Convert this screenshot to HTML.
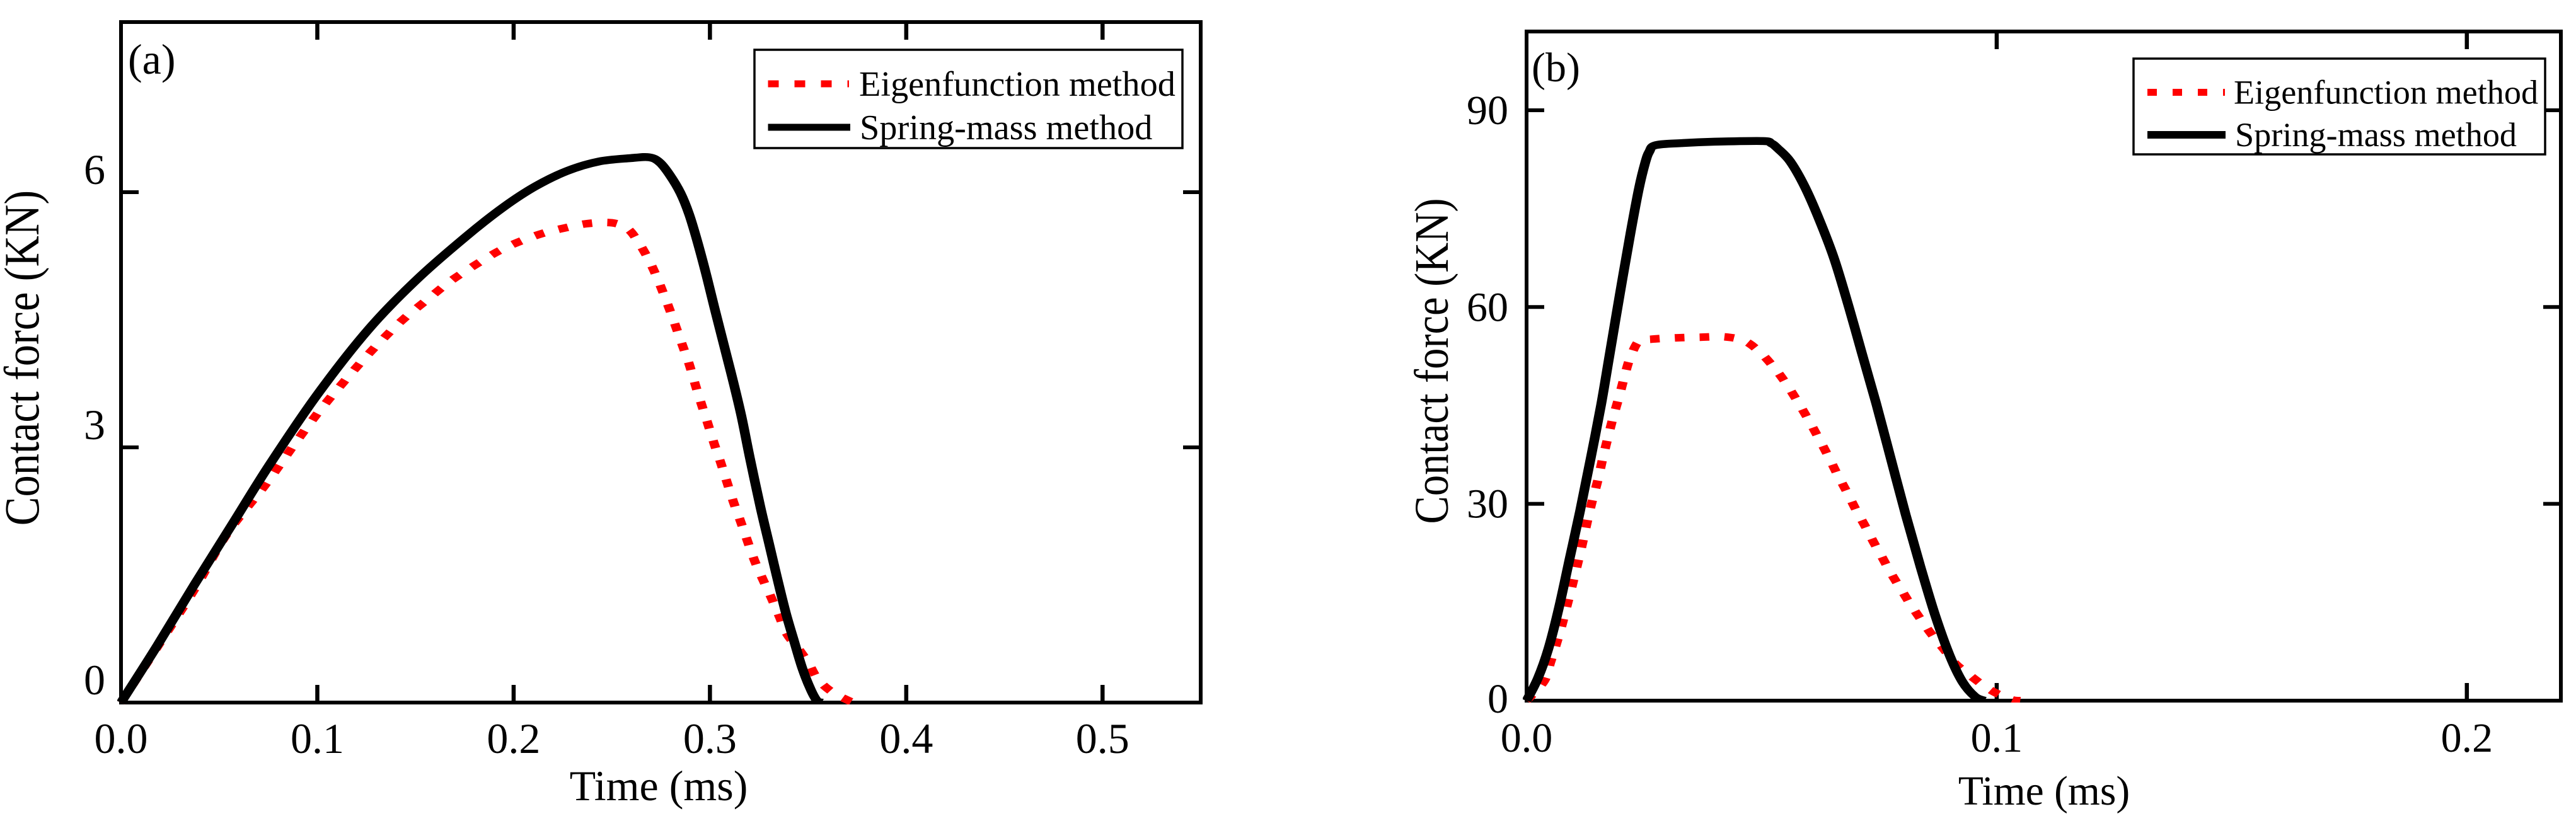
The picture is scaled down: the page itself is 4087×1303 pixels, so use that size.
<!DOCTYPE html>
<html lang="en">
<head>
<meta charset="utf-8">
<title>Contact force vs time</title>
<style>
html,body{margin:0;padding:0;background:#fff;width:4087px;height:1303px;overflow:hidden}
svg{display:block}
text{font-family:"Liberation Serif","Times New Roman",serif;fill:#000}
</style>
</head>
<body>
<svg id="figure" xmlns="http://www.w3.org/2000/svg" width="4087" height="1303" viewBox="0 0 4087 1303">
  <rect x="0" y="0" width="4087" height="1303" fill="#fff"/>
  <defs>
    <clipPath id="clip-a"><rect x="186" y="32" width="1721" height="1086"/></clipPath>
    <clipPath id="clip-b"><rect x="2416" y="47" width="1650" height="1068"/></clipPath>
  </defs>
  <g id="panel-a"></g>
  <g id="panel-b"></g>

  <g>
    <text x="203" y="117" font-size="68">(a)</text>
    <text x="1045" y="1270" font-size="68" text-anchor="middle">Time (ms)</text>
    <text transform="translate(61,568) scale(1.15,1) rotate(-90)" font-size="68.5" text-anchor="middle">Contact force (KN)</text>
  </g>
  <g>
    <rect x="1197" y="79" width="679" height="156" fill="#fff" stroke="#000" stroke-width="3.5"/>
    <line x1="1218.5" y1="133" x2="1347" y2="133" stroke="#f00" stroke-width="11" stroke-dasharray="17 25"/>
    <text x="1363" y="152" font-size="56.3">Eigenfunction method</text>
    <line x1="1218.5" y1="202" x2="1349" y2="202" stroke="#000" stroke-width="11"/>
    <text x="1364" y="221" font-size="56.3">Spring-mass method</text>
  </g>

  <g>
    <text x="2430" y="129" font-size="66">(b)</text>
    <text x="3243" y="1277" font-size="65.5" text-anchor="middle">Time (ms)</text>
    <text transform="translate(2297,573) scale(1.15,1) rotate(-90)" font-size="66.5" text-anchor="middle">Contact force (KN)</text>
  </g>
  <g>
    <rect x="3385" y="93" width="653" height="152" fill="#fff" stroke="#000" stroke-width="3.5"/>
    <line x1="3407" y1="146.5" x2="3530" y2="146.5" stroke="#f00" stroke-width="11" stroke-dasharray="15 25"/>
    <text x="3544" y="164.5" font-size="54.2">Eigenfunction method</text>
    <line x1="3407" y1="214" x2="3531" y2="214" stroke="#000" stroke-width="12"/>
    <text x="3546" y="232" font-size="54.2">Spring-mass method</text>
  </g>
</svg>

<script>
// ---- Panel (a) data ----
const aXTicks = [0, 0.1, 0.2, 0.3, 0.4, 0.5];
const aXTickLabels = ["0.0", "0.1", "0.2", "0.3", "0.4", "0.5"];
const aYTicks = [0, 3, 6];
const aYTickLabels = ["0", "3", "6"];
const aSpringTime = [0, .0184, .0374, .0565, .0755, .1, .1262, .1515, .1769, .1952, .2112, .2273, .2433, .2594, .269, .2744, .2796, .285, .2894, .2936, .2979, .3022, .3076, .312, .3161, .3204, .3257, .33, .3342, .3386, .3429, .3471, .3514, .3546, .357];
const aSpringForce = [0, .667, 1.387, 2.09, 2.79, 3.62, 4.39, 4.99, 5.50, 5.83, 6.07, 6.25, 6.36, 6.40, 6.41, 6.35, 6.2, 5.99, 5.74, 5.42, 5.05, 4.65, 4.16, 3.76, 3.36, 2.87, 2.30, 1.88, 1.47, 1.06, .72, .40, .15, .02, 0];
const aEigenTime = [0, .0184, .0374, .0539, .0742, .0894, .1015, .1135, .1262, .1421, .1567, .1694, .1872, .1961, .2053, .2154, .2262, .2374, .25, .2581, .2639, .2687, .2726, .2763, .2798, .2826, .286, .2894, .2925, .2955, .2989, .3022, .3055, .3087, .3121, .3156, .3188, .3227, .3269, .3311, .3354, .3391, .3455, .3503, .3551, .3622, .3714, .374];
const aEigenForce = [0, .65, 1.33, 1.98, 2.58, 3.07, 3.44, 3.77, 4.10, 4.47, 4.75, 4.98, 5.24, 5.35, 5.44, 5.52, 5.58, 5.63, 5.64, 5.57, 5.40, 5.21, 5.02, 4.81, 4.60, 4.42, 4.20, 3.98, 3.74, 3.52, 3.28, 3.04, 2.82, 2.59, 2.35, 2.13, 1.92, 1.67, 1.45, 1.24, 1.01, .81, .62, .46, .27, .125, .015, 0];

// ---- Panel (b) data ----
const bXTicks = [0, 0.1, 0.2];
const bXTickLabels = ["0.0", "0.1", "0.2"];
const bYTicks = [0, 30, 60, 90];
const bYTickLabels = ["0", "30", "60", "90"];
const bSpringTime = [0, .0024, .00465, .00688, .00912, .01136, .01359, .01583, .01761, .01985, .02209, .02388, .02522, .0261, .02746, .03327, .03997, .05026, .05205, .05339, .05607, .0592, .06233, .06546, .06859, .07127, .0744, .07753, .08066, .08379, .08692, .09005, .09273, .09541, .0974];
const bSpringForce = [0, 3.4, 7.93, 14.15, 21.5, 28.84, 36.75, 45.0, 52.5, 62.0, 71.2, 78, 81.96, 83.67, 84.67, 85.0, 85.2, 85.3, 84.95, 84.2, 82.2, 78.3, 73.2, 67.3, 59.9, 53.1, 45.2, 36.75, 28.3, 20.4, 13.0, 6.8, 2.85, .6, 0];
const bEigenTime = [0, .00376, .0051, .00635, .00755, .00868, .00979, .01082, .01189, .01288, .01391, .01516, .01614, .0173, .01838, .01963, .02075, .02196, .02388, .02656, .03156, .03689, .04221, .04645, .04981, .05262, .05486, .05687, .05875, .06045, .06233, .06425, .06617, .06814, .07006, .07217, .07382, .07556, .07753, .07945, .08146, .08379, .08616, .0885, .09118, .094, .09721, .09989, .10324, .105];
const bEigenForce = [0, 3.0, 5.86, 8.66, 11.6, 14.7, 17.8, 20.76, 24.0, 27.2, 30.3, 33.6, 36.75, 40.1, 43.1, 46.2, 49.2, 52.1, 54.8, 55.1, 55.3, 55.4, 55.45, 54.8, 53.0, 50.8, 48.7, 46.5, 44.3, 42.2, 39.75, 37.15, 34.4, 31.8, 29.1, 26.4, 24.15, 21.95, 19.4, 17.2, 14.9, 12.45, 10.1, 8.07, 5.67, 4.03, 2.3, 1.15, .13, 0];

const SVGNS = "http://www.w3.org/2000/svg";
// The source figure was stretched horizontally; dashes inherit that stretch.
const STRETCH = 1.23;

function make(tag, parent, props) {
  const node = document.createElementNS(SVGNS, tag);
  for (const key in props) node.setAttribute(key, props[key]);
  parent.appendChild(node);
  return node;
}

function drawAxes(parent, prefix, sx, sy, box, xTicks, xLabels, yTicks, yLabels, labelOpts) {
  const tickLen = 28;
  xTicks.forEach(function (tick, i) {
    if (tick !== 0) {
      const bottomTick = make("line", parent, { x1: sx(tick), x2: sx(tick), y1: box.bottom, y2: box.bottom - tickLen, stroke: "#000", "stroke-width": 6.5 });
      
      
      const topTick = make("line", parent, { x1: sx(tick), x2: sx(tick), y1: box.top, y2: box.top + tickLen, stroke: "#000", "stroke-width": 6.5 });
      
      
    }
    const label = make("text", parent, { x: sx(tick), y: labelOpts.xBaseline, "font-size": labelOpts.size, "text-anchor": "middle" });
    label.textContent = xLabels[i];
    
    
  });
  yTicks.forEach(function (tick, i) {
    if (tick !== 0) {
      const leftTick = make("line", parent, { x1: box.left, x2: box.left + tickLen, y1: sy(tick), y2: sy(tick), stroke: "#000", "stroke-width": 6 });
      
      
      const rightTick = make("line", parent, { x1: box.right, x2: box.right - tickLen, y1: sy(tick), y2: sy(tick), stroke: "#000", "stroke-width": 6 });
      
      
    }
    const nudge = tick === 0 ? labelOpts.zeroNudge : 0;
    const label = make("text", parent, { x: labelOpts.yRight, y: sy(tick) + labelOpts.yOffset + nudge, "font-size": labelOpts.size, "text-anchor": "end" });
    label.textContent = yLabels[i];
    
    
  });
  const frame = make("rect", parent, { x: box.left, y: box.top, width: box.right - box.left, height: box.bottom - box.top, fill: "none", stroke: "#000", "stroke-width": 6 });
  
  
}

// Smooth curve through the data points (Catmull-Rom to cubic Bezier).
function pathFrom(times, forces, sx, sy) {
  const pts = times.map(function (t, i) {
    return [sx(t) / STRETCH, sy(forces[i])];
  });
  let d = "M" + pts[0][0].toFixed(2) + " " + pts[0][1].toFixed(2);
  for (let i = 0; i < pts.length - 1; i++) {
    const p0 = pts[Math.max(i - 1, 0)];
    const p1 = pts[i];
    const p2 = pts[i + 1];
    const p3 = pts[Math.min(i + 2, pts.length - 1)];
    const c1x = p1[0] + (p2[0] - p0[0]) / 6;
    const c1y = p1[1] + (p2[1] - p0[1]) / 6;
    const c2x = p2[0] - (p3[0] - p1[0]) / 6;
    const c2y = p2[1] - (p3[1] - p1[1]) / 6;
    d += "C" + c1x.toFixed(2) + " " + c1y.toFixed(2) + " " + c2x.toFixed(2) + " " + c2y.toFixed(2) + " " + p2[0].toFixed(2) + " " + p2[1].toFixed(2);
  }
  return d;
}

function drawPanel(parent, prefix, clipId, sx, sy, box, xTicks, xLabels, yTicks, yLabels, labelOpts, eigenT, eigenF, springT, springF) {
  drawAxes(parent, prefix, sx, sy, box, xTicks, xLabels, yTicks, yLabels, labelOpts);
  const clip = make("g", parent, { "clip-path": "url(#" + clipId + ")" });
  const stretched = make("g", clip, { transform: "scale(" + STRETCH + ",1)" });
  const eigen = make("path", stretched, { d: pathFrom(eigenT, eigenF, sx, sy), fill: "none", stroke: "#f00", "stroke-width": 12, "stroke-dasharray": "12.5 19.5", "stroke-linejoin": "round" });
  
  
  const spring = make("path", stretched, { d: pathFrom(springT, springF, sx, sy), fill: "none", stroke: "#000", "stroke-width": 12.5, "stroke-linejoin": "round" });
  
  
}

const aBox = { left: 192, right: 1905, top: 35, bottom: 1115 };
const aX = function (t) { return aBox.left + t / 0.55 * (aBox.right - aBox.left); };
const aY = function (v) { return aBox.bottom - v / 8 * (aBox.bottom - aBox.top); };
drawPanel(document.getElementById("panel-a"), "panel-a", "clip-a", aX, aY, aBox,
  aXTicks, aXTickLabels, aYTicks, aYTickLabels,
  { size: 68, xBaseline: 1195, yRight: 167, yOffset: -13, zeroNudge: 0 },
  aEigenTime, aEigenForce, aSpringTime, aSpringForce);

const bBox = { left: 2422, right: 4063, top: 50, bottom: 1112 };
const bX = function (t) { return bBox.left + t / 0.22 * (bBox.right - bBox.left); };
const bY = function (v) { return bBox.bottom - v / 102 * (bBox.bottom - bBox.top); };
drawPanel(document.getElementById("panel-b"), "panel-b", "clip-b", bX, bY, bBox,
  bXTicks, bXTickLabels, bYTicks, bYTickLabels,
  { size: 66, xBaseline: 1193, yRight: 2393, yOffset: 22, zeroNudge: -3 },
  bEigenTime, bEigenForce, bSpringTime, bSpringForce);
</script>
</body>
</html>
